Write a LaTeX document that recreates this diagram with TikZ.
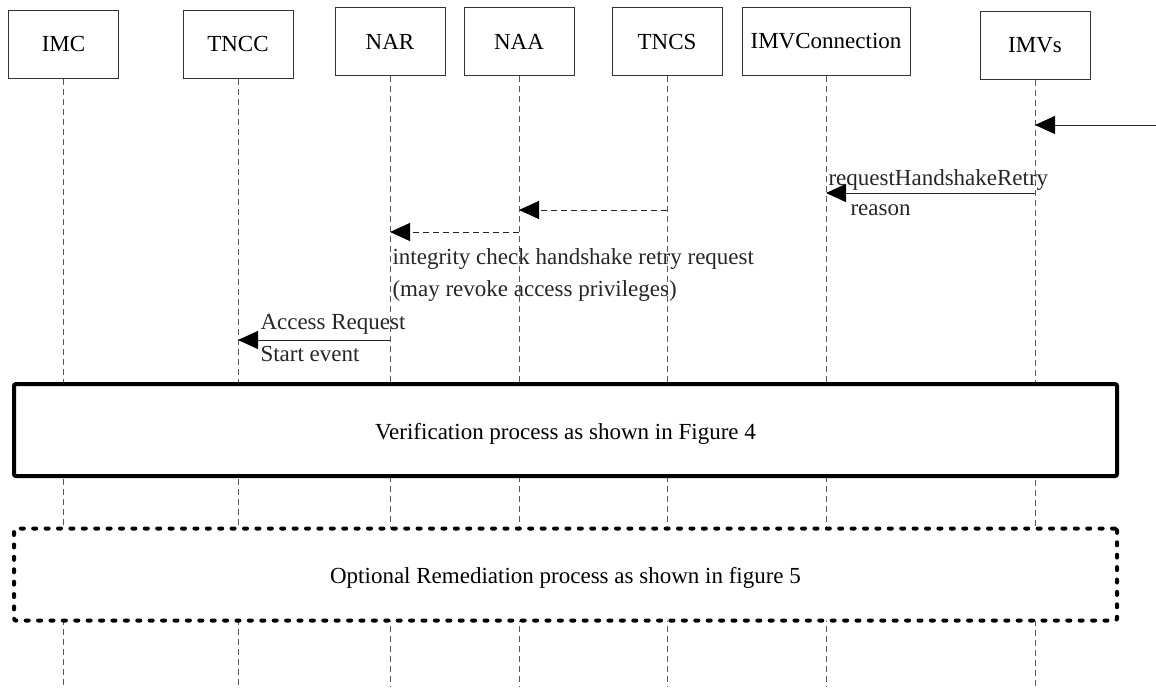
\documentclass[tikz,border=0pt]{standalone}
\usepackage{fontspec}
\setmainfont{Liberation Serif}
\usetikzlibrary{arrows.meta, positioning}

\begin{document}
\begin{tikzpicture}[x=0.5pt, y=0.5pt, font=\fontsize{11.5}{16}\selectfont]
   \tikzstyle{actor}=[rectangle,draw=black!80,fill=white,line width=0.5pt,minimum width=55pt,minimum height=34pt,inner sep=2pt]
   \tikzstyle{life}=[black!65,line width=0.5pt,dash pattern=on 3pt off 2pt]
   \tikzstyle{msg}=[black!85,line width=0.5pt,-{Triangle[length=10pt,width=9pt,black]}]
   \tikzstyle{reply}=[msg,dash pattern=on 3pt off 2pt]
   \tikzstyle{lbl}=[inner sep=1pt,align=left]
   \tikzstyle{stage}=[rectangle,draw,fill=white,line width=2pt,rounded corners=1pt,minimum width=551.5pt,minimum height=46pt,text height=2ex,text depth=0pt]

   \useasboundingbox (0,0) rectangle (1156,-687);

   \node[actor] (1) at (63.5,-44) {IMC};
   \node[actor] (2) [right of=1, node distance=87.25pt] {TNCC};
   \node[actor] (3) [right of=2, node distance=76pt, yshift=1.25pt] {NAR};
   \node[actor] (4) [right of=3, node distance=64.5pt] {NAA};
   \node[actor] (5) [right of=4, node distance=74pt] {TNCS};
   \node[actor, minimum width=84pt] (6) [right of=5, node distance=79.5pt] {IMVConnection};
   \node[actor] (7) [right of=6, node distance=104.5pt, yshift=-2pt] {IMVs};

   \coordinate (bot) at (0,-687);
   \coordinate (ext) at (1156,-125);
   \coordinate (r1) at (0,-193);
   \coordinate (r2) at (0,-210);
   \coordinate (r3) at (0,-232);
   \coordinate (r4) at (0,-340);

   \foreach \n in {1,...,7}
      \draw[life] (\n.south) -- (\n |- bot);

   \draw[msg] (ext) -- (7 |- ext);
   \draw[msg] (7 |- r1) -- (6 |- r1)
      node[lbl, above right] {requestHandshakeRetry}
      node[lbl, below right, xshift=11pt, yshift=-4.5pt] {reason};
   \draw[reply] (5 |- r2) -- (4 |- r2);
   \draw[reply] (4 |- r3) -- (3 |- r3)
      node[lbl, below right, yshift=-7pt] {integrity check handshake retry request\\(may revoke access privileges)};
   \draw[msg] (3 |- r4) -- (2 |- r4)
      node[lbl, above right, xshift=10pt, yshift=1.5pt] {Access Request}
      node[lbl, below right, xshift=10pt, yshift=-2pt] {Start event};

   \node[stage] (8) at (565.5,-430) {Verification process as shown in Figure 4};
   \node[stage, dash pattern=on 1.5pt off 4.7pt, line cap=round] (9) at (565.5,-574.5) {Optional Remediation process as shown in figure 5};
\end{tikzpicture}
\end{document}
